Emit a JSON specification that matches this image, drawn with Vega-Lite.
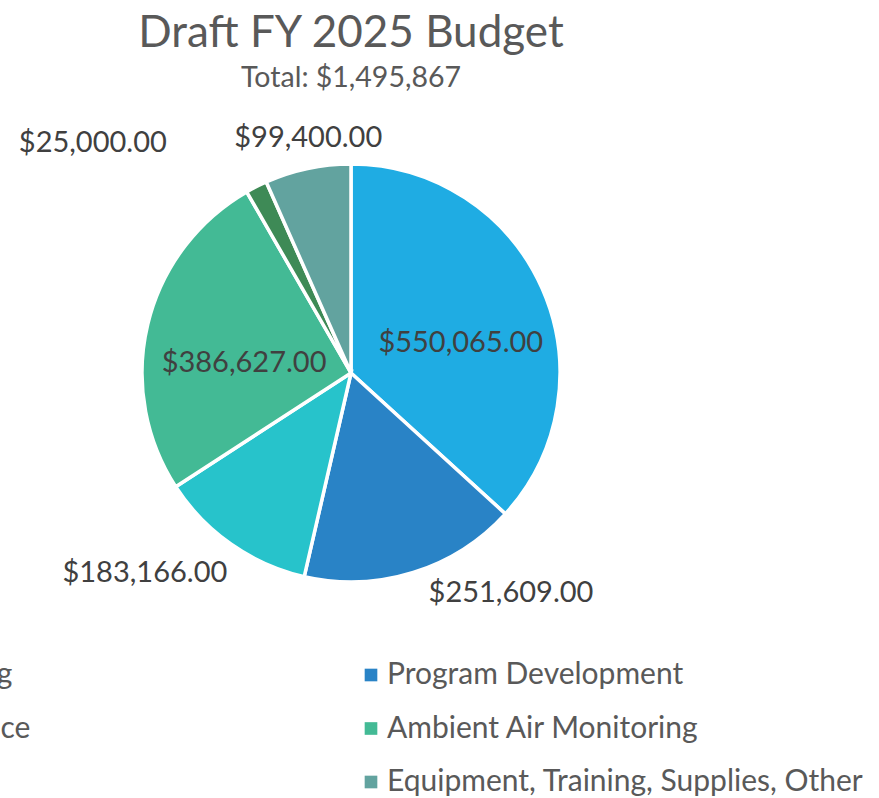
{
  "$schema": "https://vega.github.io/schema/vega-lite/v6.json",
  "width": 702,
  "height": 546,
  "autosize": "none",
  "padding": {"left": 0, "top": 100, "right": 177, "bottom": 152},
  "background": "white",
  "title": {
    "text": "Draft FY 2025 Budget",
    "subtitle": "Total: $1,495,867",
    "anchor": "middle",
    "font": "Lato",
    "fontSize": 44,
    "fontWeight": "normal",
    "color": "#595959",
    "subtitleFont": "Lato",
    "subtitleFontSize": 28.5,
    "subtitleColor": "#595959",
    "subtitlePadding": 8,
    "offset": 8
  },
  "data": {
    "values": [
      {"i": 0, "cat": "Stationary Source Permitting", "amount": 550065},
      {"i": 1, "cat": "Program Development", "amount": 251609},
      {"i": 2, "cat": "Stationary Source Compliance", "amount": 183166},
      {"i": 3, "cat": "Ambient Air Monitoring", "amount": 386627},
      {"i": 4, "cat": "Public Outreach", "amount": 25000},
      {"i": 5, "cat": "Equipment, Training, Supplies, Other", "amount": 99400}
    ]
  },
  "encoding": {
    "theta": {"field": "amount", "type": "quantitative", "stack": true},
    "order": {"field": "i", "type": "quantitative"}
  },
  "layer": [
    {
      "mark": {"type": "arc", "radius": 209, "stroke": "white", "strokeWidth": 3.5},
      "encoding": {
        "color": {
          "field": "cat",
          "type": "nominal",
          "sort": null,
          "scale": {
            "domain": ["Stationary Source Permitting", "Program Development", "Stationary Source Compliance", "Ambient Air Monitoring", "Public Outreach", "Equipment, Training, Supplies, Other"],
            "range": ["#1FACE3", "#2983C6", "#27C3CB", "#43BA95", "#3E8A56", "#62A39F"]
          },
          "legend": {
            "title": null,
            "orient": "none",
            "direction": "horizontal",
            "legendX": -394,
            "legendY": 560,
            "columns": 2,
            "columnPadding": 324,
            "rowPadding": 23.5,
            "padding": 0,
            "symbolType": "square",
            "symbolSize": 160,
            "symbolStrokeWidth": 0,
            "symbolOpacity": 1,
            "labelFont": "Lato",
            "labelFontSize": 30,
            "labelColor": "#595959",
            "labelOffset": 1,
            "labelLimit": 1000
          }
        }
      }
    },
    {
      "mark": {"type": "text", "radius": 120, "dy": 18, "align": "center", "baseline": "middle", "font": "Lato", "fontSize": 29, "color": "#404040"},
      "encoding": {
        "detail": {"field": "cat", "type": "nominal"},
        "text": {"condition": {"test": "datum.i == 0", "field": "amount", "type": "quantitative", "format": "$,.2f"}, "value": ""}
      }
    },
    {
      "mark": {"type": "text", "radius": 110, "dy": 16, "align": "center", "baseline": "middle", "font": "Lato", "fontSize": 29, "color": "#404040"},
      "encoding": {
        "detail": {"field": "cat", "type": "nominal"},
        "text": {"condition": {"test": "datum.i == 3", "field": "amount", "type": "quantitative", "format": "$,.2f"}, "value": ""}
      }
    },
    {
      "mark": {"type": "text", "radius": 230, "dx": 9, "align": "left", "baseline": "middle", "font": "Lato", "fontSize": 29, "color": "#404040"},
      "encoding": {
        "detail": {"field": "cat", "type": "nominal"},
        "text": {"condition": {"test": "datum.i == 1", "field": "amount", "type": "quantitative", "format": "$,.2f"}, "value": ""}
      }
    },
    {
      "mark": {"type": "text", "radius": 235, "dx": 11, "dy": 7, "align": "right", "baseline": "middle", "font": "Lato", "fontSize": 29, "color": "#404040"},
      "encoding": {
        "detail": {"field": "cat", "type": "nominal"},
        "text": {"condition": {"test": "datum.i == 2", "field": "amount", "type": "quantitative", "format": "$,.2f"}, "value": ""}
      }
    },
    {
      "mark": {"type": "text", "radius": 230, "dx": -80, "dy": -25, "align": "right", "baseline": "middle", "font": "Lato", "fontSize": 29, "color": "#404040"},
      "encoding": {
        "detail": {"field": "cat", "type": "nominal"},
        "text": {"condition": {"test": "datum.i == 4", "field": "amount", "type": "quantitative", "format": "$,.2f"}, "value": ""}
      }
    },
    {
      "mark": {"type": "text", "radius": 240, "dx": 7, "dy": 0, "align": "center", "baseline": "middle", "font": "Lato", "fontSize": 29, "color": "#404040"},
      "encoding": {
        "detail": {"field": "cat", "type": "nominal"},
        "text": {"condition": {"test": "datum.i == 5", "field": "amount", "type": "quantitative", "format": "$,.2f"}, "value": ""}
      }
    }
  ]
}
